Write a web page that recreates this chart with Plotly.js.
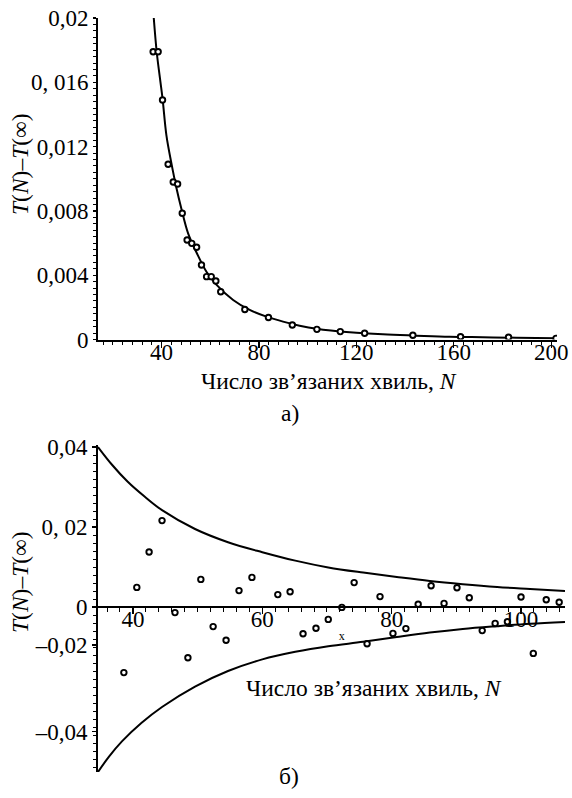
<!DOCTYPE html>
<html>
<head>
<meta charset="utf-8">
<script src="https://cdn.plot.ly/plotly-3.0.1.min.js"></script>
<style>
  html, body { margin: 0; padding: 0; background: #fff; }
  #chart { width: 572px; height: 798px; }
</style>
</head>
<body>
<div id="chart"></div>
<script>
// (a) convergence of T(N) - T(inf) with the number of bound waves N
const topN = [36.55, 38.6, 40.4, 42.7, 44.8, 46.6, 48.5, 50.5, 52.4, 54.4, 56.4, 58.5, 60.4, 62.3, 64.3,
              74.2, 83.9, 93.7, 103.8, 113.4, 123.4, 143.2, 162.8, 182.5, 202.0];
const topVal = [0.0179, 0.0179, 0.0149, 0.0109, 0.0098, 0.00967, 0.00785, 0.00619, 0.00598, 0.00574,
                0.00463, 0.00391, 0.00391, 0.00364, 0.00297, 0.00187, 0.00137, 0.0009, 0.00063,
                0.00049, 0.00039, 0.00026, 0.00017, 0.00014, 0.00007];
// fitted curve through the points
const fitN = [36.8, 38.0, 39.3, 40.4, 42.0, 44.0, 46.0, 48.2, 50.9, 54.4, 58.5, 62.6, 69.4,
              76.2, 83.1, 89.9, 96.7, 103.6, 117.3, 130.9, 144.6, 158.3, 171.9, 185.6, 202.0];
const fitVal = [0.0200, 0.0179, 0.0163, 0.0150, 0.0127, 0.0110, 0.0095, 0.0081, 0.0066,
                0.0054, 0.0042, 0.0034, 0.00246, 0.00184, 0.00142, 0.00111, 0.00086, 0.00067,
                0.00045, 0.00032, 0.00024, 0.00017, 0.00014, 0.00011, 0.00007];
const topTickVals = [0, 0.004, 0.008, 0.012, 0.016, 0.02];
const topTickText = ['0', '0,004', '0,008', '0,012', '0, 016', '0,02'];
const topXTicks = [40, 80, 120, 160, 200];

// (б) scatter of T(N) - T(inf) with its upper and lower envelopes
const botN = [38.6, 40.6, 42.5, 44.5, 46.5, 48.5, 50.5, 52.4, 54.4, 56.4, 58.4, 62.4, 64.3, 66.3,
              68.3, 70.2, 72.3, 74.2, 76.2, 78.2, 80.2, 82.2, 84.1, 86.1, 88.1, 90.1, 92.0, 94.0,
              96.0, 97.9, 100.0, 101.9, 103.9, 105.9];
const botVal = [-0.0164, 0.0049, 0.01375, 0.0216, -0.0014, -0.0127, 0.0069, -0.0049, -0.0083, 0.0041,
                0.0074, 0.0031, 0.0038, -0.0067, -0.0053, -0.0031, -0.0001, 0.0061, -0.0092, 0.0026,
                -0.0066, -0.0054, 0.0007, 0.0053, 0.0009, 0.0048, 0.0023, -0.0059, -0.0041, -0.0037,
                0.0025, -0.0116, 0.0018, 0.0012];
const upperN = [34.6, 36.8, 39.2, 41.8, 44.5, 49.6, 54.7, 60.0, 65.1, 70.2, 75.6, 80.8, 85.9, 91.0, 96.3, 101.4, 106.8];
const upperVal = [0.0400, 0.0355, 0.0313, 0.0276, 0.0242, 0.0195, 0.0162, 0.0137, 0.0116, 0.0099, 0.0086,
                  0.0075, 0.0065, 0.0057, 0.0050, 0.0045, 0.0040];
const lowerN = [34.6, 36.3, 38.3, 41.3, 44.5, 49.6, 54.7, 60.0, 65.1, 70.2, 75.6, 80.8, 85.9, 91.0, 96.3, 101.4, 106.8];
const lowerVal = [-0.04125, -0.0374, -0.0336, -0.0290, -0.0250, -0.0199, -0.0160, -0.0131, -0.0112, -0.0098,
                  -0.0087, -0.0075, -0.0064, -0.0055, -0.0048, -0.0042, -0.00375];
const crossN = [72.3];
const crossVal = [-0.0074];
const botXTicks = [40, 60, 80, 100];
const botTickVals = [0.04, 0.02, 0, -0.0095, -0.0312];
const botTickText = ['0,04', '0, 02', '0', '–0,02', '–0,04'];

const W = 572, H = 798;
const px = x => x / W;
const py = y => 1 - y / H;
const serif = '"Liberation Serif", "Times New Roman", serif';
const tickFont = { family: serif, size: 23, color: '#000' };
const titleFont = { family: serif, size: 23.5, color: '#000' };
const pointMarker = { symbol: 'circle', size: 5.5, color: '#fff', line: { color: '#000', width: 1.9 } };
const curve = { color: '#000', width: 2, shape: 'spline', smoothing: 1 };

const traces = [
  { x: fitN, y: fitVal, xaxis: 'x', yaxis: 'y', mode: 'lines', line: curve },
  { x: topN, y: topVal, xaxis: 'x', yaxis: 'y', mode: 'markers', marker: pointMarker },
  { x: upperN, y: upperVal, xaxis: 'x2', yaxis: 'y2', mode: 'lines', line: curve },
  { x: lowerN, y: lowerVal, xaxis: 'x2', yaxis: 'y2', mode: 'lines', line: curve },
  { x: botN, y: botVal, xaxis: 'x2', yaxis: 'y2', mode: 'markers', marker: pointMarker },
  { x: crossN, y: crossVal, xaxis: 'x2', yaxis: 'y2', mode: 'text', text: ['x'],
    textfont: { family: serif, size: 12, color: '#000' }, textposition: 'middle center' },
  // empty traces that register the label-only axes as subplots
  { x: [], y: [], xaxis: 'x3', yaxis: 'y', mode: 'markers', hoverinfo: 'skip' },
  { x: [], y: [], xaxis: 'x4', yaxis: 'y2', mode: 'markers', hoverinfo: 'skip' }
];

const axisCommon = {
  showgrid: false, zeroline: false, showline: true, linecolor: '#000', linewidth: 2,
  ticks: 'outside', tickcolor: '#000', tickwidth: 1.2, tickfont: tickFont, fixedrange: true
};
// label-only companion axes: same scale, no line or ticks, numbers set a little closer to the axis
const labelAxis = {
  showgrid: false, zeroline: false, showline: false, ticks: '', tickfont: tickFont, fixedrange: true
};

const topRange = [13.9, 202.4];
const botRange = [34.6, 106.8];

const layout = {
  width: W, height: H,
  margin: { l: 0, r: 0, t: 0, b: 0, pad: 0 },
  paper_bgcolor: '#fff', plot_bgcolor: 'rgba(0,0,0,0)',
  showlegend: false,
  font: { family: serif, color: '#000' },
  xaxis: Object.assign({}, axisCommon, {
    domain: [px(98), px(557)], range: topRange, anchor: 'y',
    tickmode: 'array', tickvals: topXTicks, ticklen: 6, showticklabels: false,
    minor: { dtick: 4, tick0: 0, ticklen: 3, ticks: 'outside', tickcolor: '#000', tickwidth: 1 }
  }),
  xaxis3: Object.assign({}, labelAxis, {
    overlaying: 'x', range: topRange, anchor: 'free', position: py(336),
    tickmode: 'array', tickvals: topXTicks
  }),
  yaxis: Object.assign({}, axisCommon, {
    domain: [py(339.5), py(18)], range: [0, 0.02], anchor: 'x',
    tickmode: 'array', tickvals: topTickVals, ticktext: topTickText, ticklen: 3,
    minor: { dtick: 0.0004, tick0: 0, ticklen: 3, ticks: 'outside', tickcolor: '#000', tickwidth: 1 }
  }),
  xaxis2: Object.assign({}, axisCommon, {
    domain: [px(98), px(565)], range: botRange, anchor: 'free', position: py(607),
    tickmode: 'array', tickvals: botXTicks, ticklen: 6, showticklabels: false,
    minor: { dtick: 2, tick0: 0, ticklen: 4, ticks: 'outside', tickcolor: '#000', tickwidth: 1 }
  }),
  xaxis4: Object.assign({}, labelAxis, {
    overlaying: 'x2', range: botRange, anchor: 'free', position: py(603),
    tickmode: 'array', tickvals: botXTicks
  }),
  yaxis2: Object.assign({}, axisCommon, {
    domain: [py(772), py(445)], range: [-0.04125, 0.0405], anchor: 'x2',
    tickmode: 'array', tickvals: botTickVals, ticktext: botTickText, ticklen: 4,
    minor: { dtick: 0.002, tick0: 0, ticklen: 3, ticks: 'outside', tickcolor: '#000', tickwidth: 1 }
  }),
  annotations: [
    { text: '<i>T</i>(<i>N</i>)–<i>T</i>(∞)', xref: 'paper', yref: 'paper', x: px(20), y: py(164),
      textangle: -90, showarrow: false, font: titleFont, xanchor: 'center', yanchor: 'middle' },
    { text: 'Число зв’язаних хвиль, <i>N</i>', xref: 'paper', yref: 'paper', x: px(329), y: py(381),
      showarrow: false, font: titleFont, xanchor: 'center', yanchor: 'middle' },
    { text: 'а)', xref: 'paper', yref: 'paper', x: px(290), y: py(413),
      showarrow: false, font: titleFont, xanchor: 'center', yanchor: 'middle' },
    { text: '<i>T</i>(<i>N</i>)–<i>T</i>(∞)', xref: 'paper', yref: 'paper', x: px(20), y: py(582),
      textangle: -90, showarrow: false, font: titleFont, xanchor: 'center', yanchor: 'middle' },
    { text: 'Число зв’язаних хвиль, <i>N</i>', xref: 'paper', yref: 'paper', x: px(374), y: py(688),
      showarrow: false, font: titleFont, xanchor: 'center', yanchor: 'middle' },
    { text: 'б)', xref: 'paper', yref: 'paper', x: px(289), y: py(776),
      showarrow: false, font: titleFont, xanchor: 'center', yanchor: 'middle' }
  ]
};

Plotly.newPlot('chart', traces, layout, { staticPlot: true, displayModeBar: false });
</script>
</body>
</html>
